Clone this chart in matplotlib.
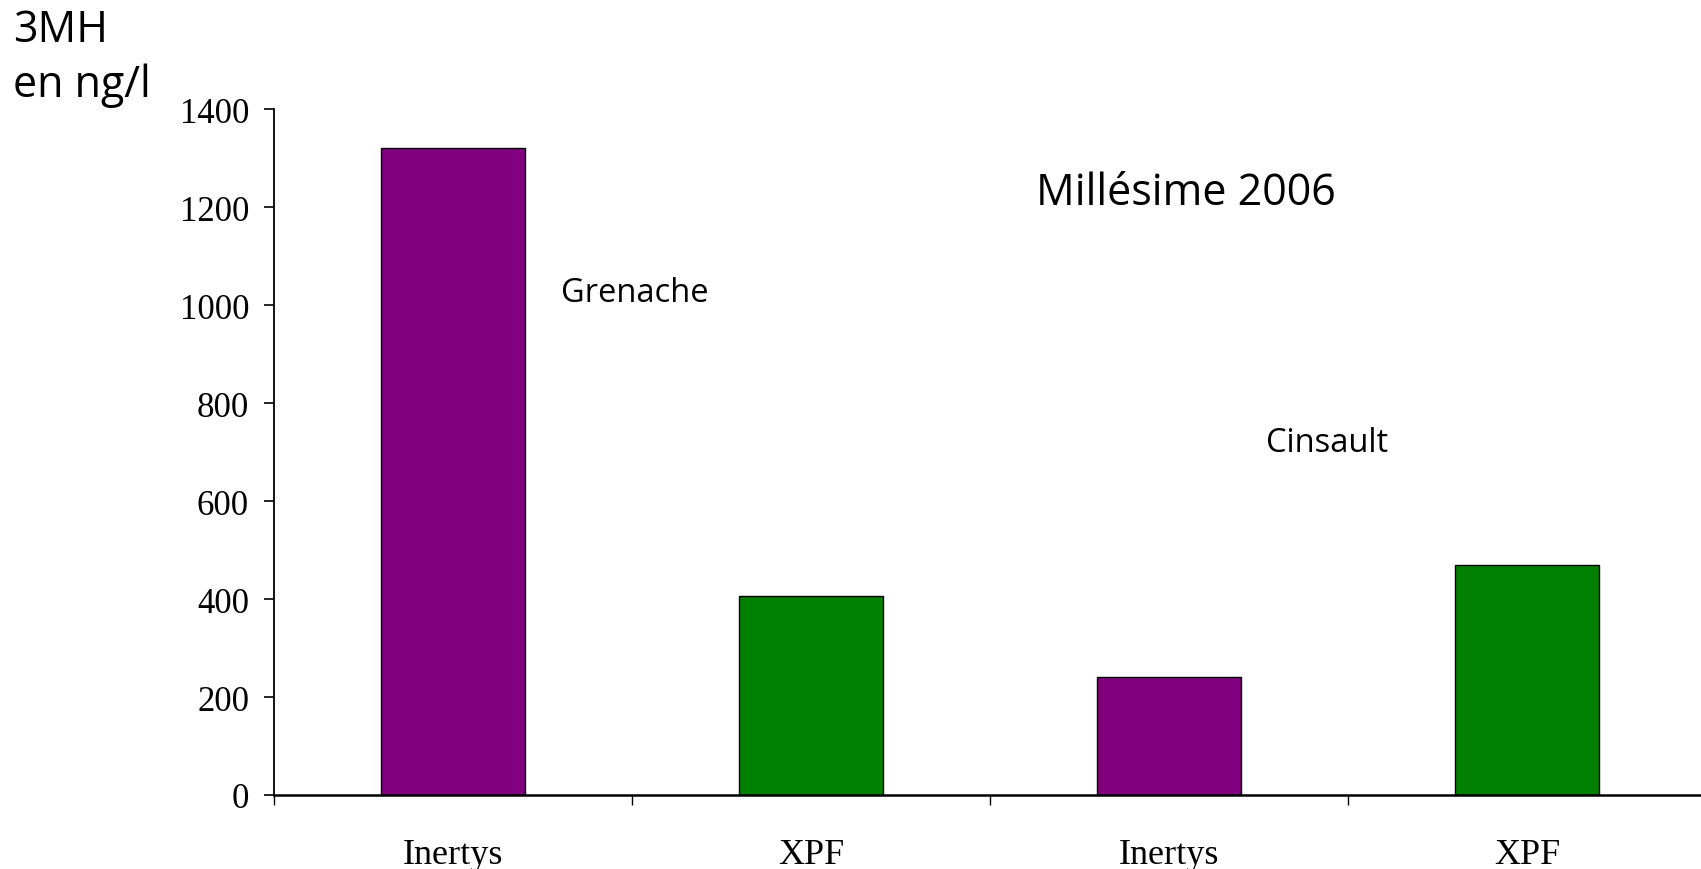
import matplotlib
matplotlib.use('Agg')
import matplotlib.pyplot as plt

# values
labels = ['Inertys', 'XPF', 'Inertys', 'XPF']
values = [1320, 407, 240, 470]
colors = ['#800080', '#008000', '#800080', '#008000']
yticks = [0, 200, 400, 600, 800, 1000, 1200, 1400]

W, H = 1701, 870
fig = plt.figure(figsize=(W / 100, H / 100), dpi=100)
ax = fig.add_axes([274 / W, 1 - 796 / H, 1432 / W, (796 - 110.3) / H])

x = range(len(values))
ax.bar(x, values, width=0.4, color=colors, edgecolor='black', linewidth=1.0)

ax.set_ylim(0, 1400)
ax.set_xlim(-0.5, 3.5)
ax.set_yticks(yticks)
ax.set_yticklabels([str(v) for v in yticks], fontfamily='Liberation Serif', fontsize=25)
ax.tick_params(axis='y', direction='out', length=7, width=1.2, pad=11)

# category boundaries get the tick marks, labels sit on the centres
ax.set_xticks([-0.5, 0.5, 1.5, 2.5, 3.5])
ax.set_xticklabels([])
ax.set_xticks(list(x), minor=True)
ax.set_xticklabels(labels, minor=True, fontfamily='Liberation Serif', fontsize=26)
ax.tick_params(axis='x', which='major', direction='out', length=7, width=1.0)
ax.tick_params(axis='x', which='minor', length=0, pad=31)

for s in ['top', 'right']:
    ax.spines[s].set_visible(False)
ax.spines['left'].set_linewidth(1.3)
ax.spines['bottom'].set_linewidth(1.8)

sans = 'Open Sans'
fig.text(13 / W, 1 - 42 / H, '3MH', fontfamily=sans, fontsize=31, va='baseline')
fig.text(13 / W, 1 - 97 / H, 'en ng/l', fontfamily=sans, fontsize=31, va='baseline')
fig.text(1036 / W, 1 - 205 / H, 'Millésime 2006', fontfamily=sans, fontsize=31, va='baseline')
fig.text(561 / W, 1 - 302 / H, 'Grenache', fontfamily=sans, fontsize=23.5, va='baseline')
fig.text(1266 / W, 1 - 452 / H, 'Cinsault', fontfamily=sans, fontsize=23.5, va='baseline')

fig.savefig('out.png', dpi=100)
